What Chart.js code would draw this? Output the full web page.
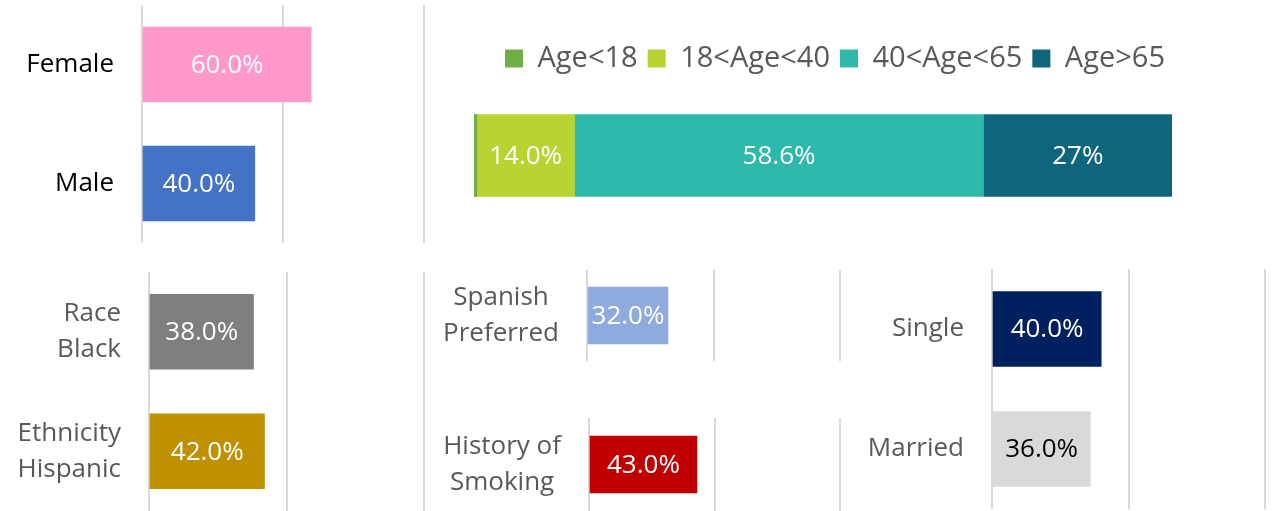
<!DOCTYPE html>
<html>
<head>
<meta charset="utf-8">
<script src="https://cdn.jsdelivr.net/npm/chart.js@4.4.0/dist/chart.umd.min.js"></script>
<style>
  body { margin: 0; background: #fff; width: 1274px; height: 511px; overflow: hidden; position: relative; }
  .box { position: absolute; }
</style>
</head>
<body>
<div class="box" style="left:0;top:5px;width:427px;height:238px"><canvas id="gender"></canvas></div>
<div class="box" style="left:424px;top:0;width:822px;height:250px"><canvas id="age"></canvas></div>
<div class="box" style="left:0;top:272px;width:427px;height:239px"><canvas id="race"></canvas></div>
<div class="box" style="left:430px;top:270px;width:413px;height:91px"><canvas id="spanish"></canvas></div>
<div class="box" style="left:430px;top:418px;width:413px;height:93px"><canvas id="smoking"></canvas></div>
<div class="box" style="left:845px;top:269px;width:424px;height:240px"><canvas id="marital"></canvas></div>

<script>
// dados
const genderLabels = ['Female', 'Male'];
const genderValues = [60.0, 40.0];
const genderColors = ['#FF99CC', '#4472C4'];

const ageGroups = ['Age<18', '18<Age<40', '40<Age<65', 'Age>65'];
const ageValues = [0.4, 14.0, 58.6, 27.0];
const ageText = ['', '14.0%', '58.6%', '27%'];
const ageColors = ['#70AD47', '#B8D432', '#2EB9AB', '#0E657C'];

const raceLabels = [['Race', 'Black'], ['Ethnicity', 'Hispanic']];
const raceValues = [38.0, 42.0];
const raceColors = ['#7F7F7F', '#BF9000'];

const spanishLabels = [['Spanish', 'Preferred']];
const spanishValues = [32.0];
const spanishColors = ['#8FAADC'];

const smokingLabels = [['History of', 'Smoking']];
const smokingValues = [43.0];
const smokingColors = ['#C00000'];

const maritalLabels = ['Single', 'Married'];
const maritalValues = [40.0, 36.0];
const maritalColors = ['#002060', '#D9D9D9'];
const maritalTextColors = ['#FFFFFF', '#000000'];

const FONT = "'Open Sans', 'DejaVu Sans', sans-serif";

// escreve o valor no meio de cada barra
const valueLabels = {
  id: 'valueLabels',
  afterDatasetsDraw(chart) {
    const ctx = chart.ctx;
    ctx.save();
    ctx.font = '26px ' + FONT;
    ctx.textAlign = 'center';
    ctx.textBaseline = 'middle';
    chart.data.datasets.forEach((ds, i) => {
      const meta = chart.getDatasetMeta(i);
      meta.data.forEach((bar, j) => {
        const txt = ds.valueText ? ds.valueText[j] : ds.data[j].toFixed(1) + '%';
        if (!txt) return;
        const p = bar.getProps(['x', 'y', 'base'], true);
        ctx.fillStyle = ds.textColors ? ds.textColors[j] : '#FFFFFF';
        ctx.fillText(txt, (p.x + p.base) / 2, p.y + 1);
      });
    });
    ctx.restore();
  }
};

function barrasH(id, labels, values, colors, cfg) {
  return new Chart(document.getElementById(id), {
    type: 'bar',
    data: {
      labels,
      datasets: [{
        data: values,
        backgroundColor: colors,
        barThickness: cfg.thickness,
        textColors: cfg.textColors
      }]
    },
    options: {
      indexAxis: 'y',
      responsive: true,
      maintainAspectRatio: false,
      animation: false,
      layout: { padding: { right: cfg.padRight, top: 0, bottom: 0, left: 0 } },
      plugins: { legend: { display: false }, tooltip: { enabled: false } },
      scales: {
        x: {
          min: 0,
          max: 100,
          ticks: { display: false, stepSize: 50 },
          grid: { color: '#D9D9D9', lineWidth: 2, drawTicks: false },
          border: { display: false },
          afterFit: s => { s.height = 0; s.paddingLeft = 0; s.paddingRight = 0; }
        },
        y: {
          grid: { display: false, drawTicks: false },
          border: { display: false },
          ticks: {
            color: cfg.labelColor,
            font: { family: FONT, size: 26, lineHeight: 1.38 },
            padding: 28,
            crossAlign: cfg.crossAlign || 'near'
          },
          afterFit: s => { s.width = cfg.axisWidth; s.paddingTop = 0; s.paddingBottom = 0; }
        }
      }
    },
    plugins: [valueLabels]
  });
}

barrasH('gender', genderLabels, genderValues, genderColors,
  { thickness: 75, padRight: 3, axisWidth: 142, labelColor: '#000000' });
barrasH('race', raceLabels, raceValues, raceColors,
  { thickness: 75, padRight: 3, axisWidth: 149, labelColor: '#595959' });
barrasH('spanish', spanishLabels, spanishValues, spanishColors,
  { thickness: 57, padRight: 3, axisWidth: 157, labelColor: '#595959', crossAlign: 'center' });
barrasH('smoking', smokingLabels, smokingValues, smokingColors,
  { thickness: 57, padRight: 3, axisWidth: 159, labelColor: '#595959', crossAlign: 'center' });
barrasH('marital', maritalLabels, maritalValues, maritalColors,
  { thickness: 75, padRight: 4, axisWidth: 147, labelColor: '#595959', textColors: maritalTextColors });

// barra empilhada das idades
new Chart(document.getElementById('age'), {
  type: 'bar',
  data: {
    labels: ['Age'],
    datasets: ageGroups.map((g, i) => ({
      label: g,
      data: [ageValues[i]],
      backgroundColor: ageColors[i],
      barThickness: 82,
      valueText: [ageText[i]]
    }))
  },
  options: {
    indexAxis: 'y',
    responsive: true,
    maintainAspectRatio: false,
    animation: false,
    layout: { padding: { left: 0, right: 0, top: 34, bottom: 22 } },
    plugins: {
      tooltip: { enabled: false },
      legend: {
        position: 'top',
        labels: {
          boxWidth: 18,
          boxHeight: 18,
          padding: 10,
          color: '#595959',
          font: { family: FONT, size: 29 }
        }
      }
    },
    scales: {
      x: { stacked: true, display: false, min: 0, max: 100 },
      y: {
        stacked: true,
        ticks: { display: false },
        grid: { display: false, drawTicks: false },
        border: { display: false },
        afterFit: s => { s.width = 50; s.paddingTop = 0; s.paddingBottom = 0; }
      },
      // eixo vazio só para reservar a margem da direita
      yDir: {
        type: 'linear',
        position: 'right',
        ticks: { display: false },
        grid: { display: false, drawTicks: false },
        border: { display: false },
        afterFit: s => { s.width = 74; s.paddingTop = 0; s.paddingBottom = 0; }
      }
    }
  },
  plugins: [valueLabels]
});
</script>
</body>
</html>
